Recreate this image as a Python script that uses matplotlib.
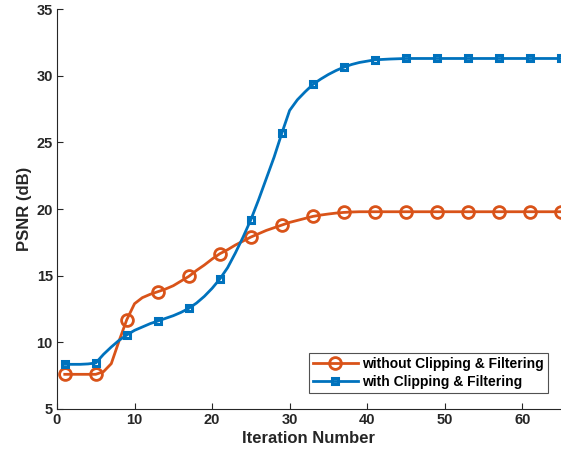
import numpy as np
import matplotlib.pyplot as plt

plt.rcParams['font.family'] = ['Liberation Sans', 'DejaVu Sans']
plt.rcParams['font.weight'] = 'bold'

iterations = np.arange(1, 66)

# PSNR per iteration
psnr_without = [7.6, 7.6, 7.6, 7.6, 7.6, 7.8, 8.4, 10.1, 11.7, 12.9,
                13.35, 13.6, 13.8, 14.0, 14.25, 14.6, 14.95, 15.4, 15.8, 16.25,
                16.65, 16.95, 17.3, 17.6, 17.9, 18.15, 18.4, 18.6, 18.8, 19.0,
                19.15, 19.3, 19.45, 19.55, 19.63, 19.7, 19.75, 19.78, 19.8, 19.8,
                19.8, 19.8, 19.8, 19.8, 19.8, 19.8, 19.8, 19.8, 19.8, 19.8,
                19.8, 19.8, 19.8, 19.8, 19.8, 19.8, 19.8, 19.8, 19.8, 19.8,
                19.8, 19.8, 19.8, 19.8, 19.8]
psnr_with = [8.35, 8.35, 8.35, 8.38, 8.45, 9.1, 9.65, 10.15, 10.55, 10.9,
             11.15, 11.4, 11.6, 11.8, 12.0, 12.25, 12.55, 12.95, 13.45, 14.05,
             14.75, 15.6, 16.7, 17.9, 19.2, 20.7, 22.3, 23.9, 25.7, 27.4,
             28.2, 28.8, 29.35, 29.75, 30.1, 30.4, 30.65, 30.85, 31.0, 31.1,
             31.2, 31.23, 31.26, 31.28, 31.3, 31.3, 31.3, 31.3, 31.3, 31.3,
             31.3, 31.3, 31.3, 31.3, 31.3, 31.3, 31.3, 31.3, 31.3, 31.3,
             31.3, 31.3, 31.3, 31.3, 31.3]

fig = plt.figure(figsize=(5.61, 4.59), dpi=100)
ax = fig.add_axes([0.1016, 0.109, 0.8984, 0.871])

ax.plot(iterations, psnr_without, color='#D95319', linewidth=2,
        marker='o', markersize=8.5, markerfacecolor='none', markeredgewidth=2,
        markevery=4, label='without Clipping & Filtering')
ax.plot(iterations, psnr_with, color='#0072BD', linewidth=2,
        marker='s', markersize=5, markerfacecolor='none', markeredgewidth=2.2,
        markevery=4, label='with Clipping & Filtering')

ax.set_xlim(0, 65)
ax.set_ylim(5, 35)
ax.set_xticks(range(0, 61, 10))
ax.set_yticks(range(5, 36, 5))
ax.set_xlabel('Iteration Number', fontsize=12, fontweight='bold', color='#262626', labelpad=3)
ax.set_ylabel('PSNR (dB)', fontsize=12, fontweight='bold', color='#262626', labelpad=3)
ax.tick_params(direction='in', labelsize=10.5, colors='#262626', length=4, width=0.8, pad=3)
for lbl in ax.get_xticklabels() + ax.get_yticklabels():
    lbl.set_fontweight('bold')

ax.spines['top'].set_visible(False)
ax.spines['right'].set_visible(False)
ax.spines['left'].set_color('#262626')
ax.spines['bottom'].set_color('#262626')

leg = ax.legend(loc='lower right', bbox_to_anchor=(0.975, 0.04), fontsize=10,
                handlelength=3.2, fancybox=False, borderpad=0.3,
                labelspacing=0.25, handletextpad=0.35, borderaxespad=0)
leg.get_frame().set_edgecolor('#262626')
leg.get_frame().set_linewidth(0.8)
for t in leg.get_texts():
    t.set_fontweight('bold')

fig.savefig('out.png', dpi=100)
